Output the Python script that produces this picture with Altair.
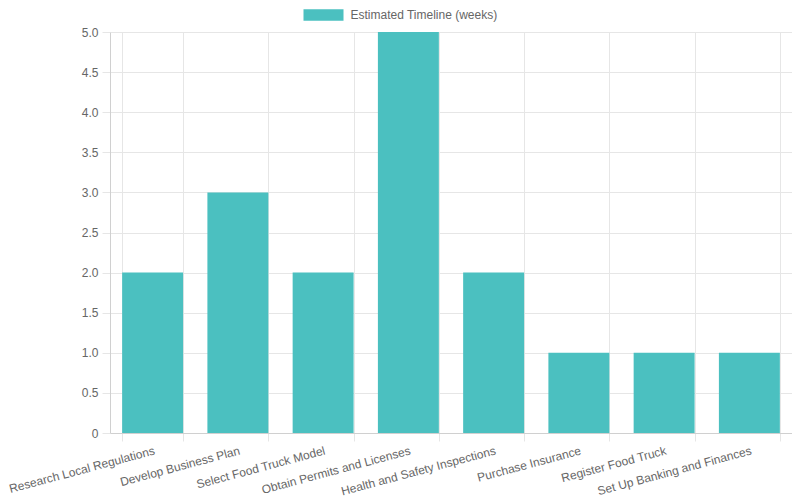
import altair as alt
import pandas as pd

tasks = [
    "Research Local Regulations",
    "Develop Business Plan",
    "Select Food Truck Model",
    "Obtain Permits and Licenses",
    "Health and Safety Inspections",
    "Purchase Insurance",
    "Register Food Truck",
    "Set Up Banking and Finances",
]
weeks = [2, 3, 2, 5, 2, 1, 1, 1]
series_name = "Estimated Timeline (weeks)"
y_ticks = [0, 0.5, 1, 1.5, 2, 2.5, 3, 3.5, 4, 4.5, 5]

df = pd.DataFrame({"task": tasks, "weeks": weeks, "series": series_name})

grid_col = "#e6e6e6"
text_col = "#666666"

chart = alt.Chart(df).mark_bar(color="#4bc0c0").encode(
    x=alt.X(
        "task:N",
        sort=None,
        title=None,
        scale=alt.Scale(paddingInner=0.285, paddingOuter=0.1425),
        axis=alt.Axis(
            labelAngle=345, labelAlign="right", labelBaseline="top",
            labelPadding=4, tickSize=8, tickBand="extent", grid=True,
            gridColor=grid_col, tickColor=grid_col, domainColor="#d0d0d0",
            labelColor=text_col, labelFontSize=12, labelLimit=300,
        ),
    ),
    y=alt.Y(
        "weeks:Q",
        title=None,
        scale=alt.Scale(domain=[0, 5], nice=False),
        axis=alt.Axis(
            values=y_ticks, labelExpr="datum.value == 0 ? '0' : format(datum.value, '.1f')",
            tickSize=8, labelPadding=4, gridColor=grid_col, tickColor=grid_col,
            domainColor="#d0d0d0", labelColor=text_col, labelFontSize=12,
        ),
    ),
    color=alt.Color(
        "series:N",
        scale=alt.Scale(range=["#4bc0c0"]),
        legend=alt.Legend(
            title=None, orient="none", legendX=193.5, legendY=-37, padding=0,
            symbolType="M-1,-0.29L1,-0.29L1,0.29L-1,0.29Z", symbolSize=1600,
            symbolStrokeWidth=0, symbolOpacity=1, labelOffset=7,
            labelColor=text_col, labelFontSize=12,
        ),
    ),
).properties(
    width=682,
    height=401,
    autosize=alt.AutoSizeParams(type="none"),
    padding={"left": 102, "top": 24, "right": 0, "bottom": 64},
).configure(font="Liberation Sans").configure_view(strokeWidth=0)

chart.save("out.html", embed_options={"renderer": "svg", "actions": False})
